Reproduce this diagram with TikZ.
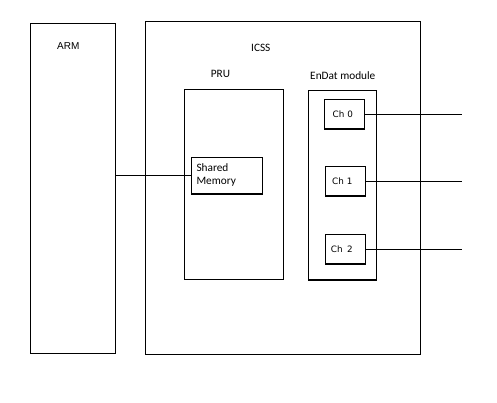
\documentclass[tikz,border=0pt]{standalone}
\usepackage{fontspec}
\setmainfont{Carlito}
\newfontfamily\armfont{Liberation Sans}
\newfontfamily\chfont{DejaVu Sans}
\begin{document}
\begin{tikzpicture}[x=1pt,y=-1pt,
  box/.style={draw=black,line width=1.1pt,inner sep=0pt,outer sep=0pt,anchor=north west},
  lbl/.style={inner sep=0pt,anchor=base,font=\fontsize{11.3}{13}\selectfont},
  chlbl/.style={inner sep=0pt,anchor=base,font=\chfont\fontsize{8.8}{10}\selectfont},
  wire/.style={draw=black,line width=1.1pt}]
\useasboundingbox (0,0) rectangle (497,403);
% boxes
\node[box,minimum width=85.2pt,minimum height=329.8pt] (arm) at (30.5,23.5) {};
\node[box,minimum width=274.8pt,minimum height=333pt] (icss) at (145.5,21.3) {};
\node[box,minimum width=99pt,minimum height=190pt] (pru) at (184.3,89.3) {};
\node[box,minimum width=71pt,minimum height=36.7pt] (sm) at (191.3,157.3) {};
\node[box,minimum width=68pt,minimum height=189.7pt] (endat) at (308.3,90.3) {};
\node[box,minimum width=40pt,minimum height=29.7pt] (ch0) at (324.5,99.3) {};
\node[box,minimum width=40pt,minimum height=29.7pt] (ch1) at (325.3,166.3) {};
\node[box,minimum width=40pt,minimum height=29.7pt] (ch2) at (325.3,234.3) {};
% labels
\node[inner sep=0pt,anchor=base,font=\armfont\fontsize{10}{12}\selectfont] (armlbl) at (68.3,50) {ARM};
\node[lbl] (icsslbl) at (260.8,51.3) {ICSS};
\node[lbl] (prulbl) at (220.5,77.7) {PRU};
\node[lbl] (endatlbl) at (342.8,79.3) {EnDat module};
\node[inner sep=0pt,anchor=north west,align=left,font=\fontsize{11.3}{13.7}\selectfont] (smlbl) at (196.3,163.2) {Shared\\Memory};
\node[chlbl] (ch0lbl) at (342.8,117.3) {Ch 0};
\node[chlbl] (ch1lbl) at (342.3,184.7) {Ch 1};
\node[chlbl] (ch2lbl) at (341.8,252.7) {Ch\hspace{0.2em} 2};
% free ends
\coordinate (o0) at (462,113.3);
\coordinate (o1) at (462,181);
\coordinate (o2) at (462,248.3);
% connectors
\draw[wire] (arm.east |- sm.west) -- (sm.west);
\draw[wire] (ch0.east) -- (ch0.east -| o0);
\draw[wire] (ch1.east) -- (ch1.east -| o1);
\draw[wire] (ch2.east) -- (ch2.east -| o2);
\end{tikzpicture}
\end{document}
